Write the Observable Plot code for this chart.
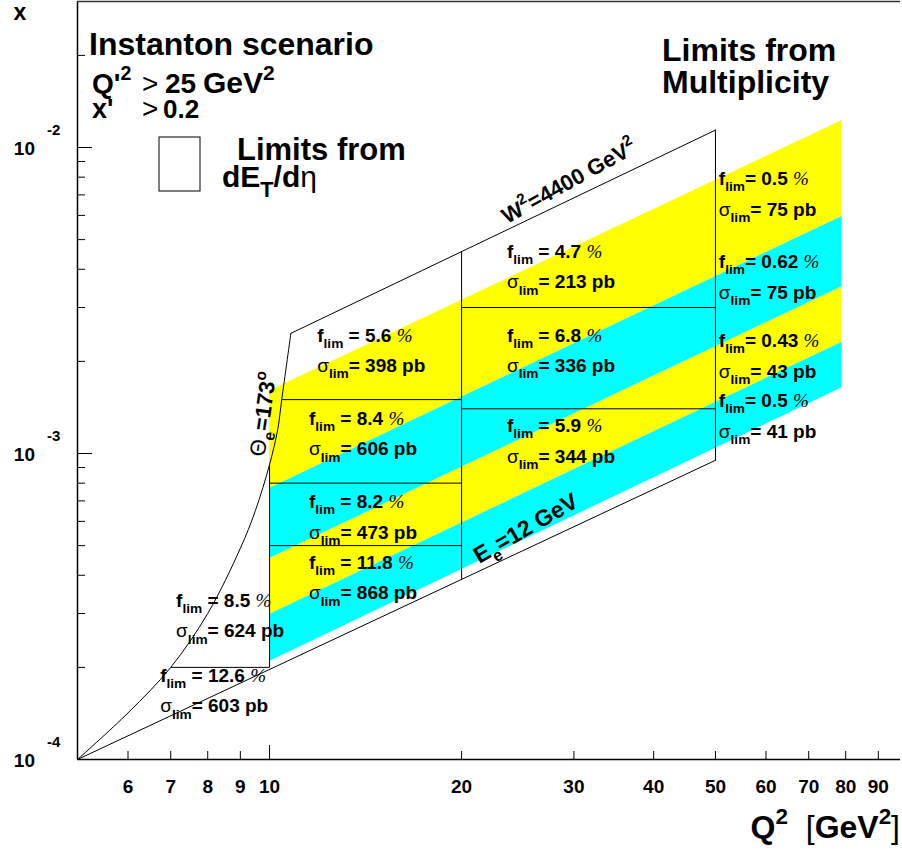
<!DOCTYPE html>
<html><head><meta charset="utf-8">
<script src="https://cdn.jsdelivr.net/npm/d3@7"></script>
<script src="https://cdn.jsdelivr.net/npm/@observablehq/plot@0.6"></script>
<style>
body{margin:0;background:#fff;overflow:hidden}
#chart{width:902px;height:850px}
</style>
</head><body><div id="chart"></div>
<script>
// ---------------- data ----------------
const xTickLabels = [6, 7, 8, 9, 10, 20, 30, 40, 50, 60, 70, 80, 90];
const xMinorTicks = [6, 7, 8, 9, 20, 30, 40, 50, 60, 70, 80, 90];
const xMajorTicks = [10];
const yMajorTicks = [1e-4, 1e-3, 1e-2];
const yTickExponents = ["-4", "-3", "-2"];
const yMinorTicks = [2e-4, 3e-4, 4e-4, 5e-4, 6e-4, 7e-4, 8e-4, 9e-4,
                     2e-3, 3e-3, 4e-3, 5e-3, 6e-3, 7e-3, 8e-3, 9e-3, 2e-2];

// kinematic boundary: E_e = 12 GeV
const eLineQ2 = [5, 50];
const eLineX = [1.0e-4, 9.5e-4];
// kinematic boundary: W^2 = 4400 GeV^2
const wLineQ2 = [10.8, 50];
const wLineX = [2.47e-3, 1.14e-2];
// right edge at Q^2 = 50
const rightQ2 = [50, 50];
const rightX = [9.5e-4, 1.14e-2];
// Theta_e = 173 deg acceptance curve
const thetaQ2 = [5.0, 6.0, 7.0, 8.0, 9.0, 9.5, 10.0, 10.3, 10.45, 10.8];
const thetaX = [1.0e-4, 1.42e-4, 2.0e-4, 3.0e-4, 4.9e-4, 6.5e-4, 9.2e-4, 1.2e-3, 1.5e-3, 2.47e-3];

// dE_T/deta bin boundaries (segments)
const binQ2a = [7, 10, 10, 10, 10.45, 20, 20, 20];
const binQ2b = [10, 10, 20, 20, 20, 20, 50, 50];
const binXa = [2e-4, 2e-4, 5e-4, 8e-4, 1.5e-3, 3.88e-4, 1.4e-3, 3e-3];
const binXb = [2e-4, 9.2e-4, 5e-4, 8e-4, 1.5e-3, 4.57e-3, 1.4e-3, 3e-3];

// multiplicity bands (edges at Q^2 = 10 and Q^2 = 79)
const bandQ2 = [10, 79];
const bandEdgesLeft = [1.6e-3, 7.69e-4, 4.54e-4, 2.98e-4, 2.09e-4];
const bandEdgesRight = [1.225e-2, 5.95e-3, 3.51e-3, 2.31e-3, 1.64e-3];
const bandColors = ["#ffff00", "#00ffff", "#ffff00", "#00ffff"];

// limit labels
const labelQ2 = [11.9, 11.55, 11.55, 11.55, 23.6, 23.6, 23.6, 50.7, 50.7, 50.7, 50.7, 7.15, 6.75];
const labelX = [2.31e-3, 1.235e-3, 6.61e-4, 4.18e-4, 4.34e-3, 2.31e-3, 1.17e-3, 7.51e-3, 4.02e-3, 2.22e-3, 1.41e-3, 3.14e-4, 1.785e-4];
const fLim = ["5.6", "8.4", "8.2", "11.8", "4.7", "6.8", "5.9", "0.5", "0.62", "0.43", "0.5", "8.5", "12.6"];
const fLimEq = [" = ", " = ", " = ", " = ", " = ", " = ", " = ", "= ", "= ", "= ", "= ", " = ", " = "];
const sigmaLim = [398, 606, 473, 868, 213, 336, 344, 75, 75, 43, 41, 624, 603];

// curve labels
const curveLabelText = ["W2", "Ee", "Theta"];
const curveLabelQ2 = [29.9, 25.6, 10.05];
const curveLabelX = [7.35e-3, 5.4e-4, 1.33e-3];

// ---------------- build ----------------
const FONT = "'Liberation Sans', Arial, Helvetica, sans-serif";

const bandRows = [];
bandColors.forEach((c, i) => {
  bandQ2.forEach((q, j) => {
    const edges = j === 0 ? bandEdgesLeft : bandEdgesRight;
    bandRows.push({q, hi: edges[i], lo: edges[i + 1], band: i, color: c});
  });
});
const zip = (a, b) => a.map((v, i) => ({q: v, x: b[i]}));
const binSegs = binQ2a.map((q, i) => ({q1: q, q2: binQ2b[i], x1: binXa[i], x2: binXb[i]}));

function rich(parent, x, y, segs, size, anchor = "start", rotate = 0) {
  const t = parent.append("text")
    .attr("transform", `translate(${x},${y}) rotate(${rotate})`)
    .attr("font-size", size).attr("font-weight", "bold")
    .attr("font-family", FONT).attr("text-anchor", anchor).attr("fill", "black");
  let shift = 0;
  for (const [s, k] of segs) {
    const ts = t.append("tspan").text(s);
    let target = 0;
    if (k === "sub") { target = size * 0.32; ts.attr("font-size", size * 0.72); }
    else if (k === "sup") { target = -size * 0.45; ts.attr("font-size", size * 0.7); }
    else if (k === "thin") { ts.attr("font-weight", "normal"); }
    else if (k === "pct") { ts.attr("font-weight", "normal").attr("font-style", "italic").attr("font-family", "'Liberation Serif', serif"); }
    if (target !== shift) { ts.attr("dy", target - shift); shift = target; }
  }
  return t;
}

const annotations = (index, scales, values, dims) => {
  const X = scales.x, Y = scales.y;
  const g = d3.create("svg:g");
  const ml = dims.marginLeft;
  // titles
  rich(g, ml + 12, 55, [["Instanton scenario", "n"]], 32);
  rich(g, ml + 15, 93, [["Q'", "n"], ["2", "sup"]], 28);
  rich(g, ml + 65, 93, [[">", "thin"]], 28);
  rich(g, ml + 88, 93, [["25", "n"]], 28);
  rich(g, ml + 126, 93, [["GeV", "n"], ["2", "sup"]], 30);
  rich(g, ml + 15, 118, [["x'", "n"]], 27);
  rich(g, ml + 65, 118, [[">", "thin"]], 28);
  rich(g, ml + 86, 118, [["0.2", "n"]], 26);
  // legend
  g.append("rect").attr("x", ml + 82).attr("y", 137).attr("width", 41).attr("height", 54)
    .attr("fill", "white").attr("stroke", "black").attr("stroke-width", 1);
  rich(g, ml + 160, 160, [["Limits from", "n"]], 31);
  rich(g, ml + 145, 187, [["dE", "n"], ["T", "sub"], ["/d", "n"], ["\u03b7", "thin"]], 30);
  rich(g, 662, 61, [["Limits from", "n"]], 32);
  rich(g, 662, 93, [["Multiplicity", "n"]], 32);
  // curve labels
  rich(g, X(curveLabelQ2[0]), Y(curveLabelX[0]), [["W", "n"], ["2", "sup"], ["=4400 GeV", "n"], ["2", "sup"]], 22, "middle", -29);
  rich(g, X(curveLabelQ2[1]), Y(curveLabelX[1]), [["E", "n"], ["e", "sub"], ["=12 GeV", "n"]], 23, "middle", -30);
  rich(g, X(curveLabelQ2[2]), Y(curveLabelX[2]), [["\u0398", "thin"], ["e", "sub"], ["=173", "n"], ["o", "sup"]], 22, "middle", -82);
  // limit labels
  labelQ2.forEach((q, i) => {
    const px = X(q), py = Y(labelX[i]);
    rich(g, px, py, [["f", "n"], ["lim", "sub"], [fLimEq[i] + fLim[i] + " ", "n"], ["%", "pct"]], 19);
    rich(g, px, py + 30.5, [["\u03c3", "thin"], ["lim", "sub"], ["= " + sigmaLim[i] + " pb", "n"]], 19);
  });
  // y tick labels
  yMajorTicks.forEach((v, i) => {
    const py = Y(v);
    rich(g, 35, py + 8, [["10", "n"]], 19, "end");
    rich(g, 47, py - 12, [[yTickExponents[i], "n"]], 15);
  });
  // axis titles
  rich(g, 20, 20, [["x", "n"]], 23, "middle");
  rich(g, 900, 838, [["Q", "n"], ["2", "sup"], ["  ", "n"], ["[", "thin"], ["GeV", "n"], ["2", "sup"], ["]", "thin"]], 32, "end");
  return g.node();
};

const chart = Plot.plot({
  width: 902,
  height: 850,
  marginLeft: 77,
  marginRight: 2,
  marginTop: 1,
  marginBottom: 91,
  style: {fontFamily: FONT, background: "white", overflow: "hidden"},
  x: {type: "log", domain: [5, 97.5], axis: null},
  y: {type: "log", domain: [1e-4, 0.030], axis: null},
  marks: [
    // multiplicity bands
    Plot.areaY(bandRows.filter(d => d.color === "#ffff00"), {x: "q", y1: "lo", y2: "hi", z: "band", fill: "#ffff00", curve: "linear"}),
    Plot.areaY(bandRows.filter(d => d.color === "#00ffff"), {x: "q", y1: "lo", y2: "hi", z: "band", fill: "#00ffff", curve: "linear"}),
    // kinematic outline
    Plot.line(zip(eLineQ2, eLineX), {x: "q", y: "x", stroke: "black", strokeWidth: 1}),
    Plot.line(zip(wLineQ2, wLineX), {x: "q", y: "x", stroke: "black", strokeWidth: 1}),
    Plot.line(zip(rightQ2, rightX), {x: "q", y: "x", stroke: "black", strokeWidth: 1}),
    Plot.line(zip(thetaQ2, thetaX), {x: "q", y: "x", stroke: "black", strokeWidth: 1, curve: "catmull-rom"}),
    // bin boundaries
    Plot.link(binSegs, {x1: "q1", x2: "q2", y1: "x1", y2: "x2", stroke: "black", strokeWidth: 1}),
    // frame: left, bottom, top
    Plot.ruleX([5], {stroke: "black", strokeWidth: 1.5}),
    Plot.ruleY([1e-4], {stroke: "black", strokeWidth: 1.5}),
    Plot.ruleY([0.030], {stroke: "#333", strokeWidth: 1.5}),
    // ticks
    Plot.tickX(xMinorTicks, {x: d => d, insetTop: 750, stroke: "black"}),
    Plot.tickX(xMajorTicks, {x: d => d, insetTop: 744, stroke: "black"}),
    Plot.tickY(yMinorTicks, {y: d => d, insetRight: 815, stroke: "black"}),
    Plot.tickY(yMajorTicks, {y: d => d, insetRight: 808, stroke: "black"}),
    // x tick labels
    Plot.text(xTickLabels, {x: d => d, frameAnchor: "bottom", dy: 33, text: d => String(d), fontSize: 19, fontWeight: "bold", fill: "black"}),
    annotations
  ]
});
document.getElementById("chart").appendChild(chart);
</script>
</body></html>
